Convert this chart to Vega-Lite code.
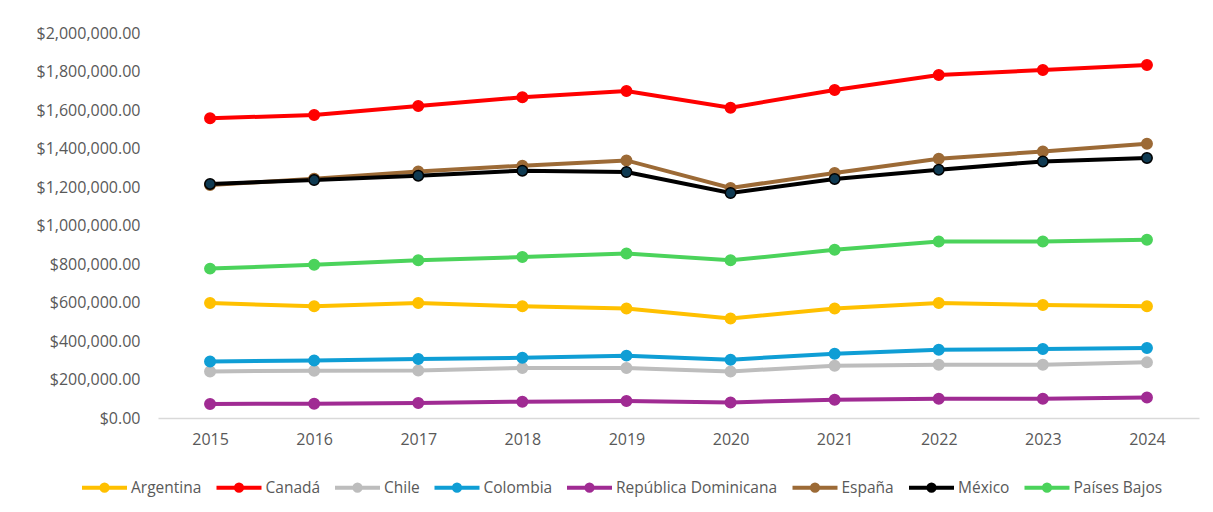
{
  "$schema": "https://vega.github.io/schema/vega-lite/v6.json",
  "width": 1041,
  "height": 385,
  "autosize": {"type": "none"},
  "padding": {"left": 158, "top": 33, "right": 14, "bottom": 94},
  "background": "white",
  "config": {
    "view": {"stroke": null},
    "axis": {"labelFont": "Open Sans", "labelFontSize": 16, "labelColor": "#595959", "ticks": false, "tickSize": 0, "grid": false, "title": null},
    "legend": {"labelFont": "Open Sans", "labelFontSize": 15.5, "labelColor": "#595959", "padding": 0, "labelLimit": 300}
  },
  "data": {"values": [
    {"year": "2015", "country": "Argentina", "value": 597000},
    {"year": "2016", "country": "Argentina", "value": 580000},
    {"year": "2017", "country": "Argentina", "value": 597000},
    {"year": "2018", "country": "Argentina", "value": 580000},
    {"year": "2019", "country": "Argentina", "value": 569000},
    {"year": "2020", "country": "Argentina", "value": 517000},
    {"year": "2021", "country": "Argentina", "value": 569000},
    {"year": "2022", "country": "Argentina", "value": 597000},
    {"year": "2023", "country": "Argentina", "value": 587000},
    {"year": "2024", "country": "Argentina", "value": 580000},
    {"year": "2015", "country": "Canadá", "value": 1557000},
    {"year": "2016", "country": "Canadá", "value": 1574000},
    {"year": "2017", "country": "Canadá", "value": 1621000},
    {"year": "2018", "country": "Canadá", "value": 1666000},
    {"year": "2019", "country": "Canadá", "value": 1699000},
    {"year": "2020", "country": "Canadá", "value": 1612000},
    {"year": "2021", "country": "Canadá", "value": 1704000},
    {"year": "2022", "country": "Canadá", "value": 1782000},
    {"year": "2023", "country": "Canadá", "value": 1808000},
    {"year": "2024", "country": "Canadá", "value": 1834000},
    {"year": "2015", "country": "Chile", "value": 242000},
    {"year": "2016", "country": "Chile", "value": 246000},
    {"year": "2017", "country": "Chile", "value": 247000},
    {"year": "2018", "country": "Chile", "value": 260000},
    {"year": "2019", "country": "Chile", "value": 260000},
    {"year": "2020", "country": "Chile", "value": 242000},
    {"year": "2021", "country": "Chile", "value": 272000},
    {"year": "2022", "country": "Chile", "value": 277000},
    {"year": "2023", "country": "Chile", "value": 277000},
    {"year": "2024", "country": "Chile", "value": 289000},
    {"year": "2015", "country": "Colombia", "value": 294000},
    {"year": "2016", "country": "Colombia", "value": 299000},
    {"year": "2017", "country": "Colombia", "value": 306000},
    {"year": "2018", "country": "Colombia", "value": 313000},
    {"year": "2019", "country": "Colombia", "value": 324000},
    {"year": "2020", "country": "Colombia", "value": 303000},
    {"year": "2021", "country": "Colombia", "value": 334000},
    {"year": "2022", "country": "Colombia", "value": 355000},
    {"year": "2023", "country": "Colombia", "value": 358000},
    {"year": "2024", "country": "Colombia", "value": 364000},
    {"year": "2015", "country": "República Dominicana", "value": 73000},
    {"year": "2016", "country": "República Dominicana", "value": 74000},
    {"year": "2017", "country": "República Dominicana", "value": 78000},
    {"year": "2018", "country": "República Dominicana", "value": 85000},
    {"year": "2019", "country": "República Dominicana", "value": 88000},
    {"year": "2020", "country": "República Dominicana", "value": 81000},
    {"year": "2021", "country": "República Dominicana", "value": 95000},
    {"year": "2022", "country": "República Dominicana", "value": 100000},
    {"year": "2023", "country": "República Dominicana", "value": 100000},
    {"year": "2024", "country": "República Dominicana", "value": 107000},
    {"year": "2015", "country": "España", "value": 1210000},
    {"year": "2016", "country": "España", "value": 1243000},
    {"year": "2017", "country": "España", "value": 1281000},
    {"year": "2018", "country": "España", "value": 1311000},
    {"year": "2019", "country": "España", "value": 1338000},
    {"year": "2020", "country": "España", "value": 1195000},
    {"year": "2021", "country": "España", "value": 1273000},
    {"year": "2022", "country": "España", "value": 1347000},
    {"year": "2023", "country": "España", "value": 1385000},
    {"year": "2024", "country": "España", "value": 1425000},
    {"year": "2015", "country": "México", "value": 1216000},
    {"year": "2016", "country": "México", "value": 1236000},
    {"year": "2017", "country": "México", "value": 1259000},
    {"year": "2018", "country": "México", "value": 1285000},
    {"year": "2019", "country": "México", "value": 1278000},
    {"year": "2020", "country": "México", "value": 1169000},
    {"year": "2021", "country": "México", "value": 1242000},
    {"year": "2022", "country": "México", "value": 1290000},
    {"year": "2023", "country": "México", "value": 1333000},
    {"year": "2024", "country": "México", "value": 1351000},
    {"year": "2015", "country": "Países Bajos", "value": 776000},
    {"year": "2016", "country": "Países Bajos", "value": 796000},
    {"year": "2017", "country": "Países Bajos", "value": 819000},
    {"year": "2018", "country": "Países Bajos", "value": 836000},
    {"year": "2019", "country": "Países Bajos", "value": 854000},
    {"year": "2020", "country": "Países Bajos", "value": 819000},
    {"year": "2021", "country": "Países Bajos", "value": 874000},
    {"year": "2022", "country": "Países Bajos", "value": 917000},
    {"year": "2023", "country": "Países Bajos", "value": 917000},
    {"year": "2024", "country": "Países Bajos", "value": 926000}
  ]},
  "encoding": {
    "x": {"field": "year", "type": "ordinal", "scale": {"type": "point", "padding": 0.5},
      "axis": {"labelAngle": 0, "domainColor": "#D9D9D9", "domainWidth": 1.5, "labelPadding": 13}},
    "y": {"field": "value", "type": "quantitative", "scale": {"domain": [0, 2000000], "nice": false},
      "axis": {"values": [0, 200000, 400000, 600000, 800000, 1000000, 1200000, 1400000, 1600000, 1800000, 2000000], "format": "$,.2f", "domain": false, "labelPadding": 18}}
  },
  "layer": [
    {
      "mark": {"type": "line", "strokeWidth": 4},
      "encoding": {
        "stroke": {"field": "country", "type": "nominal",
          "scale": {"domain": ["Argentina", "Canadá", "Chile", "Colombia", "República Dominicana", "España", "México", "Países Bajos"],
                    "range": ["#FFC000", "#FF0000", "#BDBDBD", "#0F9ED5", "#A02B93", "#9C6A36", "#000000", "#4BD35B"]},
          "legend": {"orient": "none", "legendX": -78, "legendY": 430, "direction": "horizontal", "columns": 8, "title": null,
            "symbolType": "M-1,0L1,0M0.14,0A0.14,0.14,0,1,1,-0.14,0A0.14,0.14,0,1,1,0.14,0",
            "symbolSize": 2025, "symbolStrokeWidth": 4, "labelOffset": 2, "columnPadding": 6.5,
            "encode": {"symbols": {"update": {"fill": {"scale": "fill", "field": "value"}}}}}}
      }
    },
    {
      "mark": {"type": "point", "filled": true, "size": 110, "strokeWidth": 1.5, "opacity": 1},
      "encoding": {
        "stroke": {"field": "country", "type": "nominal"},
        "fill": {"field": "country", "type": "nominal",
          "scale": {"domain": ["Argentina", "Canadá", "Chile", "Colombia", "República Dominicana", "España", "México", "Países Bajos"],
                    "range": ["#FFC000", "#FF0000", "#BDBDBD", "#0F9ED5", "#A02B93", "#9C6A36", "#0F3A52", "#4BD35B"]},
          "legend": null}
      }
    }
  ]
}
